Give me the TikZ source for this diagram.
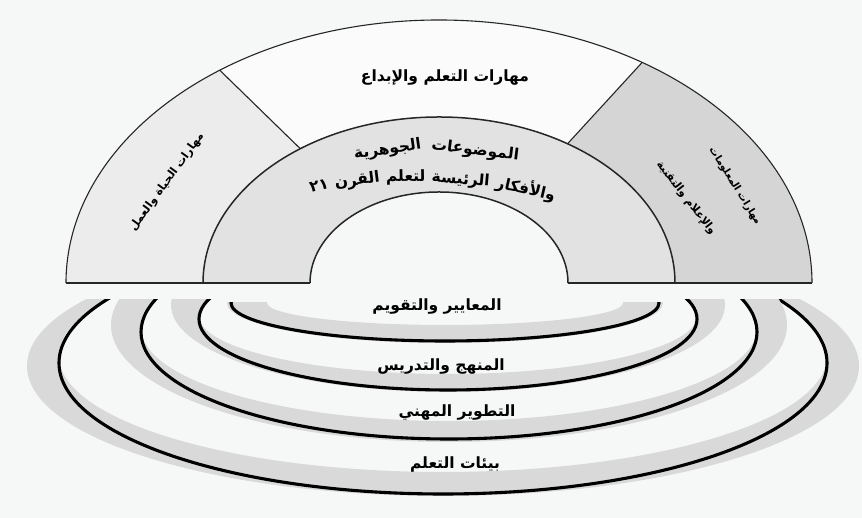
\documentclass[tikz,border=0pt]{standalone}
\usepackage{fontspec}
\usetikzlibrary{calc}
\TeXXeTstate=1
\newfontfamily\arabicfont[Script=Arabic]{DejaVu Sans}
\definecolor{bgc}{HTML}{F6F7F7}
\definecolor{leftseg}{HTML}{ECECEC}
\definecolor{rightseg}{HTML}{D5D5D5}
\definecolor{ringc}{HTML}{E2E2E2}
\definecolor{topseg}{HTML}{FBFBFB}
\definecolor{bowlc}{HTML}{D9D9D9}
\tikzset{
  lbl/.style={font=\arabicfont\bfseries\fontsize{15.5}{18}\selectfont, inner sep=0pt},
  wlbl/.style={lbl, text height=12pt, text depth=4pt},
  slbl/.style={font=\arabicfont\bfseries\fontsize{10.5}{12}\selectfont, inner sep=0pt},
  arcline/.style={draw=black!85, line width=1.1pt},
  ringline/.style={draw=black!85, line width=1.5pt},
  baseline/.style={draw=black!85, line width=1.6pt},
  bowlfill/.style={fill=bowlc, even odd rule},
  bowlline/.style={draw=black, line width=3.1pt},
}
\begin{document}
\begin{tikzpicture}[x=1pt,y=1pt]
\useasboundingbox (0,0) rectangle (862,518);
\fill[bgc] (0,0) rectangle (862,518);
% ---------- top rainbow ----------
\coordinate (C) at (439,235);
\coordinate (OL) at ($(C)+(180:373 and 263)$);
\coordinate (OR) at ($(C)+(0:373 and 263)$);
\coordinate (ML) at ($(C)+(180:236 and 166)$);
\coordinate (MR) at ($(C)+(0:236 and 166)$);
\coordinate (IL) at ($(C)+(180:129 and 91)$);
\coordinate (IR) at ($(C)+(0:129 and 91)$);
\coordinate (O1) at ($(C)+(126:373 and 263)$);
\coordinate (M1) at ($(C)+(126:236 and 166)$);
\coordinate (O2) at ($(C)+(57:373 and 263)$);
\coordinate (M2) at ($(C)+(57:236 and 166)$);
\fill[leftseg] (OL) arc[start angle=180,end angle=126,x radius=373,y radius=263] -- (M1)
  arc[start angle=126,end angle=180,x radius=236,y radius=166] -- cycle;
\fill[topseg] (O1) arc[start angle=126,end angle=57,x radius=373,y radius=263] -- (M2)
  arc[start angle=57,end angle=126,x radius=236,y radius=166] -- cycle;
\fill[rightseg] (O2) arc[start angle=57,end angle=0,x radius=373,y radius=263] -- (MR)
  arc[start angle=0,end angle=57,x radius=236,y radius=166] -- cycle;
\fill[ringc] (ML) arc[start angle=180,end angle=0,x radius=236,y radius=166] -- (IR)
  arc[start angle=0,end angle=180,x radius=129,y radius=91] -- cycle;
\draw[arcline] (OL) arc[start angle=180,end angle=0,x radius=373,y radius=263];
\draw[ringline] (ML) arc[start angle=180,end angle=0,x radius=236,y radius=166];
\draw[ringline] (IL) arc[start angle=180,end angle=0,x radius=129,y radius=91];
\draw[arcline] (O1) -- (M1);
\draw[arcline] (O2) -- (M2);
\draw[baseline] (OL) -- (IL);
\draw[baseline] (IR) -- (OR);
% labels of the rainbow
\node[lbl] (learn) at (445,440) {\beginR مهارات التعلم والإبداع\endR};
% first curved line, words chained from right to left
\node[wlbl, rotate=-7, anchor=east] (core1a) at (519,362) {\beginR الموضوعات\endR};
\node[wlbl, rotate=8, anchor=east] (core1b) at ($(core1a.west)+(180:10)$) {\beginR الجوهرية\endR};
% second curved line
\node[wlbl, rotate=-13, anchor=east] (core2a) at (555,321) {\beginR والأفكار\endR};
\node[wlbl, rotate=-5, anchor=east] (core2b) at ($(core2a.west)+(171:6)$) {\beginR الرئيسة\endR};
\node[wlbl, rotate=1, anchor=east] (core2c) at ($(core2b.west)+(178:6)$) {\beginR لتعلم\endR};
\node[wlbl, rotate=7, anchor=east] (core2d) at ($(core2c.west)+(184:6)$) {\beginR القرن\endR};
\node[wlbl, rotate=13, anchor=east] (core2e) at ($(core2d.west)+(190:6)$) {\beginL ٢١\endL};
\node[slbl, font=\arabicfont\bfseries\fontsize{11.2}{13}\selectfont, rotate=54] (life) at (167,336) {\beginR مهارات الحياة والعمل\endR};
\node[slbl, font=\arabicfont\bfseries\fontsize{10}{12}\selectfont, rotate=-58] (info1) at (735,332) {\beginR مهارات المعلومات\endR};
\node[slbl, font=\arabicfont\bfseries\fontsize{11}{13}\selectfont, rotate=-52] (info2) at (686,320) {\beginR والإعلام والتقنية\endR};
% ---------- bowls ----------
\begin{scope}
\clip (0,0) rectangle (862,218);
\fill[bowlfill] (443,152) ellipse[x radius=416,y radius=130] (443,162) ellipse[x radius=384,y radius=116];
\draw[bowlline] (443,155) ellipse[x radius=384,y radius=131];
\fill[bowlfill] (449,193) ellipse[x radius=338,y radius=117] (449,190) ellipse[x radius=308,y radius=93];
\draw[bowlline] (449,186) ellipse[x radius=308,y radius=107];
\fill[bowlfill] (448,213) ellipse[x radius=277,y radius=87] (448,202) ellipse[x radius=249,y radius=58];
\draw[bowlline] (448,199) ellipse[x radius=249,y radius=71];
\end{scope}
\begin{scope}
\clip (0,0) rectangle (862,215);
\fill[bowlfill] (445,215) ellipse[x radius=218,y radius=40] (445,215) ellipse[x radius=178,y radius=22];
\draw[bowlline] (445,215) ellipse[x radius=214,y radius=38];
\end{scope}
\node[lbl] (std) at (437,211) {\beginR المعايير والتقويم\endR};
\node[lbl] (cur) at (441,151) {\beginR المنهج والتدريس\endR};
\node[lbl] (pd) at (457,105) {\beginR التطوير المهني\endR};
\node[lbl] (env) at (455,53) {\beginR بيئات التعلم\endR};
\end{tikzpicture}
\end{document}
